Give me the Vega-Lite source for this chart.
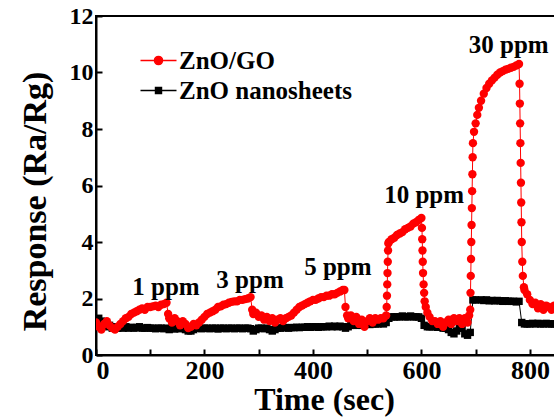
{
  "$schema": "https://vega.github.io/schema/vega-lite/v6.json",
  "autosize": "none",
  "width": 461,
  "height": 339,
  "padding": {"left": 96, "top": 16, "right": 0, "bottom": 62},
  "background": "white",
  "config": {
    "view": {"stroke": "black", "strokeWidth": 2},
    "axis": {
      "grid": false,
      "domainColor": "black",
      "domainWidth": 2,
      "tickColor": "black",
      "tickWidth": 2,
      "tickSize": -6,
      "labelFont": "Liberation Serif",
      "labelFontWeight": "bold",
      "labelColor": "black",
      "titleFont": "Liberation Serif",
      "titleFontWeight": "bold",
      "titleColor": "black"
    },
    "legend": {
      "orient": "none", "legendX": 50, "legendY": 32, "title": null, "padding": 0,
      "labelFont": "Liberation Serif", "labelFontWeight": "bold", "labelFontSize": 25, "labelColor": "black",
      "labelOffset": 8, "rowPadding": 4, "symbolSize": 324, "labelLimit": 0
    }
  },
  "data": {
    "values": [
      {"t":0,"a":1.15,"b":1.25},{"t":5,"a":1.0,"b":1.3},{"t":10,"a":0.9,"b":1.2},{"t":15,"a":1.1,"b":1.1},{"t":20,"a":1.2,"b":1.0},
      {"t":25,"a":1.05,"b":1.05},{"t":30,"a":0.95,"b":0.95},{"t":35,"a":0.9,"b":1.0},{"t":40,"a":1.0,"b":0.95},{"t":45,"a":1.1,"b":1.0},
      {"t":50,"a":1.2,"b":0.95},{"t":55,"a":1.3,"b":1.0},{"t":60,"a":1.35,"b":0.95},{"t":65,"a":1.45,"b":0.98},{"t":70,"a":1.5,"b":0.95},
      {"t":75,"a":1.55,"b":0.97},{"t":80,"a":1.6,"b":1.0},{"t":85,"a":1.65,"b":0.95},{"t":90,"a":1.6,"b":0.95},{"t":95,"a":1.7,"b":0.97},
      {"t":100,"a":1.7,"b":0.95},{"t":105,"a":1.72,"b":0.95},{"t":110,"a":1.75,"b":0.93},{"t":115,"a":1.7,"b":0.95},{"t":120,"a":1.78,"b":0.95},
      {"t":125,"a":1.8,"b":0.93},{"t":130,"a":1.85,"b":0.95},{"t":133,"a":1.45,"b":null},{"t":135,"a":1.3,"b":0.9},{"t":140,"a":1.15,"b":0.95},
      {"t":145,"a":1.3,"b":0.92},{"t":150,"a":1.2,"b":0.95},{"t":155,"a":1.05,"b":0.93},{"t":160,"a":1.2,"b":0.95},{"t":165,"a":1.1,"b":0.9},
      {"t":170,"a":0.95,"b":0.85},{"t":175,"a":1.0,"b":0.85},{"t":180,"a":1.1,"b":0.9},{"t":185,"a":1.05,"b":0.95},{"t":190,"a":1.15,"b":0.95},
      {"t":195,"a":1.25,"b":0.93},{"t":200,"a":1.35,"b":0.95},{"t":205,"a":1.45,"b":0.95},{"t":210,"a":1.5,"b":0.93},{"t":215,"a":1.55,"b":0.95},
      {"t":220,"a":1.6,"b":0.95},{"t":225,"a":1.7,"b":0.92},{"t":230,"a":1.72,"b":0.95},{"t":235,"a":1.78,"b":0.95},{"t":240,"a":1.8,"b":0.93},
      {"t":245,"a":1.85,"b":0.95},{"t":250,"a":1.88,"b":0.95},{"t":255,"a":1.9,"b":0.93},{"t":260,"a":1.9,"b":0.95},{"t":265,"a":1.95,"b":0.95},
      {"t":270,"a":1.95,"b":0.93},{"t":275,"a":1.98,"b":0.95},{"t":280,"a":2.0,"b":0.95},{"t":285,"a":2.05,"b":0.93},{"t":288,"a":1.6,"b":null},
      {"t":290,"a":1.45,"b":0.85},{"t":295,"a":1.5,"b":0.9},{"t":300,"a":1.35,"b":0.95},{"t":305,"a":1.4,"b":0.95},{"t":310,"a":1.25,"b":0.93},
      {"t":315,"a":1.35,"b":0.95},{"t":320,"a":1.2,"b":0.9},{"t":325,"a":1.3,"b":0.85},{"t":330,"a":1.15,"b":0.9},{"t":335,"a":1.25,"b":0.95},
      {"t":340,"a":1.3,"b":0.95},{"t":345,"a":1.2,"b":0.97},{"t":350,"a":1.3,"b":0.97},{"t":355,"a":1.35,"b":0.95},{"t":360,"a":1.4,"b":0.97},
      {"t":365,"a":1.5,"b":0.97},{"t":370,"a":1.6,"b":0.98},{"t":375,"a":1.7,"b":0.97},{"t":380,"a":1.75,"b":0.98},{"t":385,"a":1.8,"b":0.98},
      {"t":390,"a":1.85,"b":1.0},{"t":395,"a":1.9,"b":0.98},{"t":400,"a":1.95,"b":1.0},{"t":405,"a":1.95,"b":1.0},{"t":410,"a":2.0,"b":0.98},
      {"t":415,"a":2.05,"b":1.0},{"t":420,"a":2.05,"b":1.0},{"t":425,"a":2.1,"b":1.0},{"t":430,"a":2.1,"b":1.02},{"t":435,"a":2.15,"b":1.0},
      {"t":440,"a":2.15,"b":1.02},{"t":445,"a":2.2,"b":1.0},{"t":450,"a":2.25,"b":1.02},{"t":455,"a":2.3,"b":1.0},{"t":458,"a":2.3,"b":null},
      {"t":460,"a":1.7,"b":0.95},{"t":463,"a":1.4,"b":null},{"t":465,"a":1.3,"b":1.0},{"t":470,"a":1.4,"b":1.05},{"t":475,"a":1.2,"b":1.05},
      {"t":480,"a":1.35,"b":1.05},{"t":485,"a":1.1,"b":1.08},{"t":490,"a":1.25,"b":1.05},{"t":495,"a":1.0,"b":1.08},{"t":500,"a":1.2,"b":1.1},
      {"t":505,"a":1.3,"b":1.08},{"t":510,"a":1.15,"b":1.1},{"t":515,"a":1.3,"b":1.1},{"t":520,"a":1.25,"b":1.1},{"t":525,"a":1.3,"b":1.12},
      {"t":530,"a":1.3,"b":1.1},{"t":535,"a":1.4,"b":1.15},{"t":536,"a":1.7,"b":null},{"t":536.5,"a":2.1,"b":null},{"t":537,"a":2.5,"b":null},
      {"t":537.5,"a":2.9,"b":null},{"t":538,"a":3.3,"b":null},{"t":538.5,"a":3.7,"b":null},{"t":539,"a":3.95,"b":null},
      {"t":540,"a":4.0,"b":1.3},{"t":545,"a":4.1,"b":1.35},{"t":550,"a":4.15,"b":1.35},{"t":555,"a":4.25,"b":1.35},{"t":560,"a":4.3,"b":1.35},
      {"t":565,"a":4.35,"b":1.38},{"t":570,"a":4.45,"b":1.35},{"t":575,"a":4.5,"b":1.35},{"t":580,"a":4.55,"b":1.38},{"t":585,"a":4.65,"b":1.35},
      {"t":590,"a":4.7,"b":1.35},{"t":595,"a":4.78,"b":1.35},{"t":600,"a":4.85,"b":1.3},{"t":601,"a":4.5,"b":null},{"t":601.5,"a":4.1,"b":null},
      {"t":602,"a":3.7,"b":null},{"t":602.5,"a":3.3,"b":null},{"t":603,"a":2.9,"b":null},{"t":604,"a":2.5,"b":null},{"t":605,"a":2.2,"b":1.05},
      {"t":606,"a":1.9,"b":null},{"t":608,"a":1.7,"b":null},{"t":611,"a":1.5,"b":1.0},{"t":615,"a":1.35,"b":1.0},{"t":620,"a":1.2,"b":1.0},
      {"t":625,"a":1.2,"b":1.0},{"t":630,"a":1.1,"b":0.98},{"t":635,"a":1.2,"b":1.0},{"t":640,"a":1.0,"b":0.95},{"t":645,"a":1.15,"b":0.95},
      {"t":650,"a":1.25,"b":0.9},{"t":655,"a":1.1,"b":0.8},{"t":660,"a":1.3,"b":0.75},{"t":665,"a":1.2,"b":0.85},{"t":670,"a":1.3,"b":0.95},
      {"t":675,"a":1.1,"b":0.95},{"t":680,"a":1.3,"b":0.75},{"t":685,"a":1.15,"b":0.7},{"t":688,"a":1.4,"b":null},{"t":690,"a":1.6,"b":0.8},
      {"t":690.5,"a":2.2,"b":null},{"t":691,"a":2.8,"b":null},{"t":691.5,"a":3.4,"b":null},{"t":692,"a":4.0,"b":null},{"t":692.5,"a":4.6,"b":null},
      {"t":693,"a":5.2,"b":null},{"t":693.5,"a":5.8,"b":null},{"t":694,"a":6.4,"b":null},{"t":694.5,"a":7.0,"b":null},{"t":695,"a":7.5,"b":1.95},
      {"t":697,"a":7.9,"b":null},{"t":700,"a":8.2,"b":1.95},{"t":703,"a":8.5,"b":null},{"t":706,"a":8.75,"b":null},{"t":710,"a":9.0,"b":1.95},
      {"t":715,"a":9.25,"b":1.93},{"t":720,"a":9.45,"b":1.95},{"t":725,"a":9.6,"b":1.92},{"t":730,"a":9.72,"b":1.93},{"t":735,"a":9.82,"b":1.92},
      {"t":740,"a":9.92,"b":1.93},{"t":745,"a":10.0,"b":1.92},{"t":750,"a":10.05,"b":1.9},{"t":755,"a":10.1,"b":1.92},{"t":760,"a":10.13,"b":1.9},
      {"t":765,"a":10.17,"b":1.9},{"t":770,"a":10.2,"b":1.9},{"t":775,"a":10.25,"b":1.88},{"t":780,"a":10.3,"b":1.9},{"t":781,"a":9.6,"b":null},
      {"t":781.5,"a":8.9,"b":null},{"t":782,"a":8.2,"b":null},{"t":782.5,"a":7.5,"b":null},{"t":783,"a":6.8,"b":null},{"t":783.5,"a":6.1,"b":null},
      {"t":784,"a":5.4,"b":null},{"t":784.5,"a":4.7,"b":null},{"t":785,"a":4.0,"b":1.15},{"t":786,"a":3.3,"b":null},{"t":787,"a":2.8,"b":null},
      {"t":789,"a":2.4,"b":null},{"t":790,"a":2.3,"b":1.1},{"t":795,"a":2.15,"b":1.1},{"t":800,"a":1.95,"b":1.1},{"t":805,"a":1.8,"b":1.12},
      {"t":810,"a":1.85,"b":1.1},{"t":815,"a":1.65,"b":1.12},{"t":820,"a":1.8,"b":1.1},{"t":825,"a":1.6,"b":1.1},{"t":830,"a":1.75,"b":1.12},
      {"t":835,"a":1.7,"b":1.1},{"t":840,"a":1.6,"b":1.1},{"t":845,"a":1.75,"b":1.1},{"t":850,"a":1.7,"b":1.1}
    ]
  },
  "transform": [
    {"fold": ["b", "a"], "as": ["key", "v"]},
    {"filter": {"field": "v", "valid": true}},
    {"lookup": "key", "from": {"data": {"values": [{"key": "a", "s": "ZnO/GO"}, {"key": "b", "s": "ZnO nanosheets"}]}, "key": "key", "fields": ["s"]}}
  ],
  "layer": [
    {
      "mark": {"type": "line", "strokeWidth": 1, "clip": true},
      "encoding": {
        "x": {"field": "t", "type": "quantitative", "scale": {"domain": [0, 850], "nice": false},
          "axis": {"values": [0,100,200,300,400,500,600,700,800], "labelExpr": "datum.value % 200 == 0 ? datum.label : ''", "labelFontSize": 26, "labelPadding": 8, "title": "Time (sec)", "titleFontSize": 32, "titleX": 228, "titleY": 54, "titleAlign": "center", "titleBaseline": "alphabetic"}},
        "y": {"field": "v", "type": "quantitative", "scale": {"domain": [0, 12], "nice": false},
          "axis": {"values": [0,1,2,3,4,5,6,7,8,9,10,11,12], "labelExpr": "datum.value % 2 == 0 ? datum.label : ''", "labelFontSize": 24, "labelPadding": 9, "title": "Response (Ra/Rg)", "titleFontSize": 34, "titleAngle": -90, "titleX": -61, "titleY": 185, "titleAlign": "center", "titleBaseline": "middle"}},
        "color": {"field": "s", "type": "nominal", "scale": {"domain": ["ZnO/GO", "ZnO nanosheets"], "range": ["#ff0000", "#000000"]},
          "legend": {
            "symbolType": "M-2,0L2,0M0.45,0A0.45,0.45,0,1,1,-0.45,0A0.45,0.45,0,1,1,0.45,0Z",
            "symbolStrokeWidth": 1.5,
            "encode": {"symbols": {"update": {
              "shape": {"signal": "datum.value === 'ZnO/GO' ? 'M-2,0L2,0M0.45,0A0.45,0.45,0,1,1,-0.45,0A0.45,0.45,0,1,1,0.45,0Z' : 'M-2,0L2,0M-0.33,-0.33L0.33,-0.33L0.33,0.33L-0.33,0.33Z'"},
              "size": {"value": 324},
              "fill": {"signal": "scale('color', datum.value)"},
              "stroke": {"signal": "scale('color', datum.value)"},
              "strokeWidth": {"value": 1.5},
              "opacity": {"value": 1}
            }}}
          }},
        "detail": {"field": "s"}
      }
    },
    {
      "transform": [{"filter": {"field": "key", "equal": "b"}}],
      "mark": {"type": "point", "filled": true, "opacity": 1, "clip": true, "shape": "square", "size": 55, "color": "#000000"},
      "encoding": {
        "x": {"field": "t", "type": "quantitative"},
        "y": {"field": "v", "type": "quantitative"}
      }
    },
    {
      "transform": [{"filter": {"field": "key", "equal": "a"}}],
      "mark": {"type": "point", "filled": true, "opacity": 1, "clip": true, "shape": "circle", "size": 70, "color": "#ff0000"},
      "encoding": {
        "x": {"field": "t", "type": "quantitative"},
        "y": {"field": "v", "type": "quantitative"}
      }
    },
    {
      "data": {"values": [
        {"t": 129, "v": 2.12, "label": "1 ppm"},
        {"t": 284, "v": 2.37, "label": "3 ppm"},
        {"t": 446, "v": 2.83, "label": "5 ppm"},
        {"t": 605, "v": 5.38, "label": "10 ppm"},
        {"t": 761, "v": 10.69, "label": "30 ppm"}
      ]},
      "mark": {"type": "text", "font": "Liberation Serif", "fontWeight": "bold", "fontSize": 25, "align": "center", "baseline": "alphabetic", "color": "black"},
      "encoding": {
        "x": {"field": "t", "type": "quantitative"},
        "y": {"field": "v", "type": "quantitative"},
        "text": {"field": "label"}
      }
    }
  ]
}
